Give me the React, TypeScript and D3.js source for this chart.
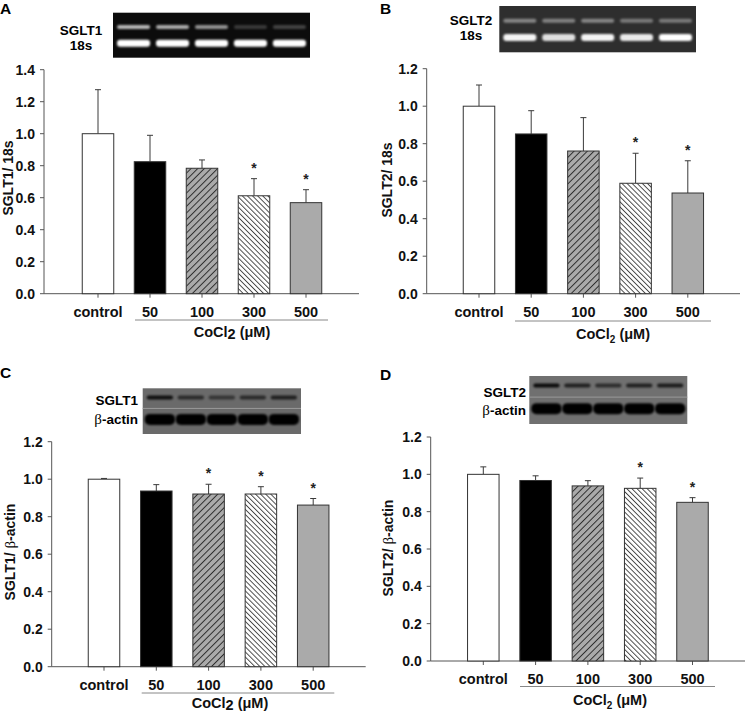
import React from "react";
import * as d3 from "d3";

const categories = ["control", "50", "100", "300", "500"];

const mrnaSglt1Mean = [1.0, 0.825, 0.784, 0.612, 0.569];
const mrnaSglt1Err = [0.275, 0.165, 0.052, 0.107, 0.081];
const mrnaSglt1Sig = [false, false, false, true, true];

const mrnaSglt2Mean = [1.0, 0.852, 0.761, 0.589, 0.537];
const mrnaSglt2Err = [0.113, 0.124, 0.178, 0.16, 0.172];
const mrnaSglt2Sig = [false, false, false, true, true];

const protSglt1Mean = [1.0, 0.937, 0.921, 0.921, 0.862];
const protSglt1Err = [0.004, 0.034, 0.052, 0.039, 0.035];
const protSglt1Sig = [false, false, true, true, true];

const protSglt2Mean = [1.0, 0.967, 0.938, 0.925, 0.85];
const protSglt2Err = [0.04, 0.025, 0.028, 0.055, 0.025];
const protSglt2Sig = [false, false, false, true, true];

const ticks14 = [0, 0.2, 0.4, 0.6, 0.8, 1.0, 1.2, 1.4];
const ticks12 = [0, 0.2, 0.4, 0.6, 0.8, 1.0, 1.2];

// band intensities for the gel / blot insets (lanes follow categories)
const gelA_sglt1 = [0.7, 0.65, 0.55, 0.18, 0.22];
const gelA_18s = [1, 1, 1, 1, 1];
const gelB_sglt2 = [0.42, 0.4, 0.42, 0.36, 0.36];
const gelB_18s = [0.95, 0.85, 0.95, 0.9, 1];
const blotC_sglt1 = [0.85, 0.6, 0.5, 0.6, 0.7];
const blotC_actin = [1, 1, 1, 1, 1];
const blotD_sglt2 = [0.9, 0.7, 0.6, 0.7, 0.75];
const blotD_actin = [1, 1, 1, 1, 1];

const FONT = "'Liberation Sans', Arial, sans-serif";
const fills = ["#ffffff", "#000000", "url(#hatchF)", "url(#hatchB)", "#aaaaaa"];

type Cfg = {
  letter: string; lx: number; ly: number;
  ax: number; xEnd: number; y0: number; yTop: number; yMax: number;
  c0: number; c4: number; bw: number;
  labY: number; ulY: number; ul0: number; ul1: number;
  coX: number; coY: number; subSmall: boolean;
  ylab: string; ylx: number; lyc: number;
  gel: { x: number; y: number; w: number; h: number; western: boolean; bg: string };
  gl: { cx: number; anchor: string; t1: string; y1: number; t2: string; y2: number; beta: boolean };
};

function Gel({ g, top, bottom }: { g: Cfg["gel"]; top: number[]; bottom: number[] }) {
  const lanes = d3.scaleBand().domain(categories).range([g.x + 4, g.x + g.w - 4]).paddingInner(0.15);
  const western = g.western;
  const topY = western ? g.y + g.h * 0.2 : g.y + g.h * 0.32;
  const botY = g.y + g.h * 0.68;
  const topH = 4;
  const botH = western ? 11 : 7;
  const col = western ? "#000" : "#fff";
  return (
    <g>
      <rect x={g.x} y={g.y} width={g.w} height={g.h} fill={g.bg} />
      {western && <line x1={g.x} x2={g.x + g.w} y1={g.y + g.h * 0.44} y2={g.y + g.h * 0.44} stroke="#9a9a9a" strokeWidth={1} />}
      {top.map((v, i) => (
        <rect key={"t" + i} x={lanes(categories[i])} y={topY - topH / 2} width={lanes.bandwidth()} height={topH}
          rx={2} fill={col} opacity={v} filter="url(#blur)" />
      ))}
      {bottom.map((v, i) => (
        <rect key={"b" + i} x={lanes(categories[i])! - (western ? 2 : 0)} y={botY - botH / 2} width={lanes.bandwidth() + (western ? 4 : 0)} height={botH}
          rx={western ? 5 : 3} fill={col} opacity={v} filter="url(#blur)" />
      ))}
    </g>
  );
}

function BetaText({ text }: { text: string }) {
  if (!text.includes("β")) return <>{text}</>;
  const [a, b] = text.split("β");
  return (
    <>
      {a}
      <tspan fontFamily="'Liberation Serif', serif" fontWeight="normal" fontSize={15} fill="#000">β</tspan>
      {b}
    </>
  );
}

function Panel({ cfg, mean, err, sig, ticks, top, bottom }: {
  cfg: Cfg; mean: number[]; err: number[]; sig: boolean[]; ticks: number[]; top: number[]; bottom: number[];
}) {
  const y = d3.scaleLinear().domain([0, cfg.yMax]).range([cfg.y0, cfg.yTop]);
  const x = d3.scalePoint().domain(categories).range([cfg.c0, cfg.c4]);
  const bw = cfg.bw;
  const axisCol = "#555";
  return (
    <g fontFamily={FONT} fontWeight="bold">
      <text x={cfg.lx} y={cfg.ly} fontSize={15.5} fill="#000">{cfg.letter}</text>
      <Gel g={cfg.gel} top={top} bottom={bottom} />
      <text x={cfg.gl.cx} y={cfg.gl.y1} fontSize={13.5} textAnchor={cfg.gl.anchor} fill="#000">{cfg.gl.t1}</text>
      <text x={cfg.gl.cx} y={cfg.gl.y2} fontSize={13.5} textAnchor={cfg.gl.anchor} fill="#000"><BetaText text={cfg.gl.t2} /></text>
      {/* y axis */}
      <line x1={cfg.ax} x2={cfg.ax} y1={y(0)} y2={y(cfg.yMax)} stroke={axisCol} strokeWidth={1} />
      {ticks.map((t) => (
        <g key={t}>
          <line x1={cfg.ax - 4} x2={cfg.ax} y1={y(t)} y2={y(t)} stroke={axisCol} />
          <text x={cfg.ax - 9} y={y(t)} dy="0.36em" fontSize={14} textAnchor="end" fill="#111">{t.toFixed(1)}</text>
        </g>
      ))}
      {/* x axis */}
      <line x1={cfg.ax} x2={cfg.xEnd} y1={y(0)} y2={y(0)} stroke={axisCol} />
      {categories.map((c) => (
        <line key={c} x1={x(c)} x2={x(c)} y1={y(0)} y2={y(0) + 4} stroke={axisCol} />
      ))}
      {/* bars */}
      {categories.map((c, i) => (
        <g key={c}>
          <line x1={x(c)} x2={x(c)} y1={y(mean[i])} y2={y(mean[i] + err[i])} stroke="#3a3a3a" strokeWidth={1} />
          <line x1={x(c)! - 3} x2={x(c)! + 3} y1={y(mean[i] + err[i])} y2={y(mean[i] + err[i])} stroke="#3a3a3a" strokeWidth={1} />
          <rect x={x(c)! - bw / 2} y={y(mean[i])} width={bw} height={y(0) - y(mean[i])}
            fill={fills[i]} stroke="#333" strokeWidth={1} />
          {sig[i] && (
            <text x={x(c)} y={y(mean[i] + err[i]) - 6} fontSize={14} textAnchor="middle" fill="#222">*</text>
          )}
        </g>
      ))}
      {/* category labels */}
      {categories.map((c) => (
        <text key={c} x={x(c)} y={cfg.labY} fontSize={14.5} textAnchor="middle" fill="#111">{c}</text>
      ))}
      <line x1={cfg.ul0} x2={cfg.ul1} y1={cfg.ulY} y2={cfg.ulY} stroke="#888" strokeWidth={1} />
      <text x={cfg.coX} y={cfg.coY} fontSize={14.5} textAnchor="middle" fill="#111">
        CoCl
        <tspan fontSize={cfg.subSmall ? 10 : 14.5} dy={cfg.subSmall ? 4 : 2}>2</tspan>
        <tspan dy={cfg.subSmall ? -4 : -2}> (μM)</tspan>
      </text>
      <text transform={`translate(${cfg.ylx},${cfg.lyc}) rotate(-90)`} fontSize={14} textAnchor="middle" dy="0.36em" fill="#111">
        <BetaText text={cfg.ylab} />
      </text>
    </g>
  );
}

const cfgA: Cfg = {
  letter: "A", lx: 0, ly: 14, ax: 44, xEnd: 359, y0: 293.7, yTop: 69.7, yMax: 1.4,
  c0: 98, c4: 306, bw: 31.5, labY: 317, ulY: 320, ul0: 135, ul1: 328, coX: 232, coY: 337, subSmall: false,
  ylab: "SGLT1/ 18s", ylx: 8, lyc: 178,
  gel: { x: 113, y: 12.7, w: 197, h: 45, western: false, bg: "#0c0c0c" },
  gl: { cx: 81, anchor: "middle", t1: "SGLT1", y1: 35, t2: "18s", y2: 50, beta: false },
};
const cfgB: Cfg = {
  letter: "B", lx: 380, ly: 14, ax: 426.7, xEnd: 740, y0: 293.7, yTop: 68.7, yMax: 1.2,
  c0: 479, c4: 687.8, bw: 31.5, labY: 317, ulY: 321, ul0: 515, ul1: 711, coX: 613, coY: 339, subSmall: true,
  ylab: "SGLT2/ 18s", ylx: 387, lyc: 180,
  gel: { x: 499.3, y: 6, w: 196.7, h: 46.3, western: false, bg: "#2e2e2e" },
  gl: { cx: 471, anchor: "middle", t1: "SGLT2", y1: 25, t2: "18s", y2: 40, beta: false },
};
const cfgC: Cfg = {
  letter: "C", lx: 0, ly: 378, ax: 51.7, xEnd: 365.7, y0: 666.7, yTop: 441.7, yMax: 1.2,
  c0: 104, c4: 313.2, bw: 31.5, labY: 690, ulY: 693, ul0: 141.7, ul1: 334.3, coX: 230, coY: 708, subSmall: false,
  ylab: "SGLT1/ β-actin", ylx: 10, lyc: 552,
  gel: { x: 142.7, y: 388.3, w: 158.3, h: 45.7, western: true, bg: "#6a6a6a" },
  gl: { cx: 138, anchor: "end", t1: "SGLT1", y1: 405, t2: "β-actin", y2: 424, beta: true },
};
const cfgD: Cfg = {
  letter: "D", lx: 380, ly: 380, ax: 430.7, xEnd: 745, y0: 661, yTop: 437, yMax: 1.2,
  c0: 483.3, c4: 692.5, bw: 31.5, labY: 684, ulY: 686.5, ul0: 520, ul1: 715, coX: 610, coY: 705, subSmall: true,
  ylab: "SGLT2/ β-actin", ylx: 388, lyc: 548,
  gel: { x: 529.3, y: 376, w: 158, h: 48, western: true, bg: "#707070" },
  gl: { cx: 526, anchor: "end", t1: "SGLT2", y1: 397, t2: "β-actin", y2: 415, beta: true },
};

export default function App() {
  return (
    <svg width={745} height={714} style={{ position: "absolute", left: 0, top: 0, background: "#fff" }}>
      <defs>
        <pattern id="hatchF" patternUnits="userSpaceOnUse" width={4.7} height={4.7} patternTransform="rotate(45)">
          <rect width={4.7} height={4.7} fill="#aaaaaa" />
          <line x1={0.5} y1={0} x2={0.5} y2={4.7} stroke="#222" strokeWidth={0.9} />
        </pattern>
        <pattern id="hatchB" patternUnits="userSpaceOnUse" width={3.6} height={3.6} patternTransform="rotate(-45)">
          <rect width={3.6} height={3.6} fill="#ffffff" />
          <line x1={0.5} y1={0} x2={0.5} y2={3.6} stroke="#222" strokeWidth={0.8} />
        </pattern>
        <filter id="blur" x="-20%" y="-50%" width="140%" height="200%">
          <feGaussianBlur stdDeviation={1.2} />
        </filter>
      </defs>
      <Panel cfg={cfgA} mean={mrnaSglt1Mean} err={mrnaSglt1Err} sig={mrnaSglt1Sig} ticks={ticks14} top={gelA_sglt1} bottom={gelA_18s} />
      <Panel cfg={cfgB} mean={mrnaSglt2Mean} err={mrnaSglt2Err} sig={mrnaSglt2Sig} ticks={ticks12} top={gelB_sglt2} bottom={gelB_18s} />
      <Panel cfg={cfgC} mean={protSglt1Mean} err={protSglt1Err} sig={protSglt1Sig} ticks={ticks12} top={blotC_sglt1} bottom={blotC_actin} />
      <Panel cfg={cfgD} mean={protSglt2Mean} err={protSglt2Err} sig={protSglt2Sig} ticks={ticks12} top={blotD_sglt2} bottom={blotD_actin} />
    </svg>
  );
}
